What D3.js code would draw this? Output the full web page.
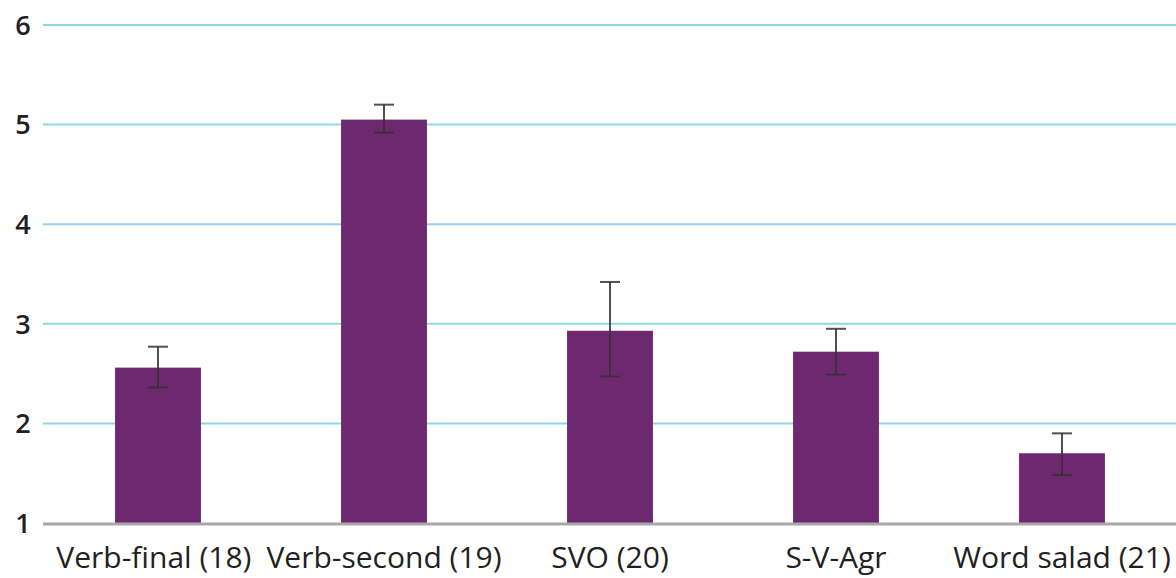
<!doctype html>
<html>
<head>
<meta charset="utf-8">
<script src="https://cdnjs.cloudflare.com/ajax/libs/d3/7.8.5/d3.min.js"></script>
<style>
  body { margin: 0; background: #fff; }
  svg text { font-family: "Open Sans", "Noto Sans", sans-serif; fill: #231f20; }
</style>
</head>
<body>
<svg id="chart" width="1176" height="578"></svg>
<script>
// data
var categories = ["Verb-final (18)", "Verb-second (19)", "SVO (20)", "S-V-Agr", "Word salad (21)"];
var means = [2.56, 5.05, 2.93, 2.72, 1.70];
var errLow = [2.36, 4.92, 2.47, 2.49, 1.48];
var errHigh = [2.77, 5.20, 3.42, 2.95, 1.90];
var yTicks = [1, 2, 3, 4, 5, 6];

var svg = d3.select("#chart");

var x = d3.scaleBand()
  .domain(categories)
  .range([45, 1175])
  .paddingInner(0.62)
  .paddingOuter(0.31);

var y = d3.scaleLinear()
  .domain([1, 6])
  .range([523, 25]);

// gridlines
svg.append("g")
  .selectAll("line")
  .data(yTicks.filter(function(d) { return d > 1; }))
  .enter()
  .append("line")
    .attr("x1", 43)
    .attr("x2", 1176)
    .attr("y1", function(d) { return y(d); })
    .attr("y2", function(d) { return y(d); })
    .style("stroke", "#8fd6ea")
    .style("stroke-width", 2);

// y tick labels
svg.append("g")
  .selectAll("text")
  .data(yTicks)
  .enter()
  .append("text")
    .attr("x", 23)
    .attr("y", function(d) { return y(d); })
    .attr("dy", "0.36em")
    .attr("text-anchor", "middle")
    .style("font-size", "27px")
    .style("font-weight", "600")
    .text(function(d) { return d; });

// bars
svg.append("g")
  .selectAll("rect")
  .data(categories)
  .enter()
  .append("rect")
    .attr("x", function(d) { return x(d); })
    .attr("width", x.bandwidth())
    .attr("y", function(d, i) { return y(means[i]); })
    .attr("height", function(d, i) { return y(1) - y(means[i]); })
    .style("fill", "#6e2870");

// baseline
svg.append("line")
  .attr("x1", 43)
  .attr("x2", 1176)
  .attr("y1", y(1) + 1)
  .attr("y2", y(1) + 1)
  .style("stroke", "#a8a8a8")
  .style("stroke-width", 3);

// error bars
var eb = svg.append("g")
  .selectAll("g")
  .data(categories)
  .enter()
  .append("g")
    .style("stroke", "#333")
    .style("stroke-opacity", 0.85)
    .style("stroke-width", 2);

var cx = function(d) { return x(d) + x.bandwidth() / 2; };

eb.append("line")
  .attr("x1", cx).attr("x2", cx)
  .attr("y1", function(d, i) { return y(errHigh[i]); })
  .attr("y2", function(d, i) { return y(errLow[i]); });
eb.append("line")
  .attr("x1", function(d) { return cx(d) - 10; })
  .attr("x2", function(d) { return cx(d) + 10; })
  .attr("y1", function(d, i) { return y(errHigh[i]); })
  .attr("y2", function(d, i) { return y(errHigh[i]); });
eb.append("line")
  .attr("x1", function(d) { return cx(d) - 10; })
  .attr("x2", function(d) { return cx(d) + 10; })
  .attr("y1", function(d, i) { return y(errLow[i]); })
  .attr("y2", function(d, i) { return y(errLow[i]); });

// category labels
var labels = svg.append("g")
  .selectAll("text")
  .data(categories)
  .enter()
  .append("text")
    .attr("x", cx)
    .attr("y", 568)
    .attr("text-anchor", "middle")
    .style("font-size", "30px")
    .text(function(d) { return d; });

// push labels apart where they crowd, keeping a small gap
var nodes = labels.nodes();
for (var i = nodes.length - 2; i >= 0; i--) {
  var a = nodes[i].getBBox(), b = nodes[i + 1].getBBox();
  var over = a.x + a.width + 15 - b.x;
  if (over > 0) {
    d3.select(nodes[i]).attr("x", +d3.select(nodes[i]).attr("x") - over);
  }
}
</script>
</body>
</html>
